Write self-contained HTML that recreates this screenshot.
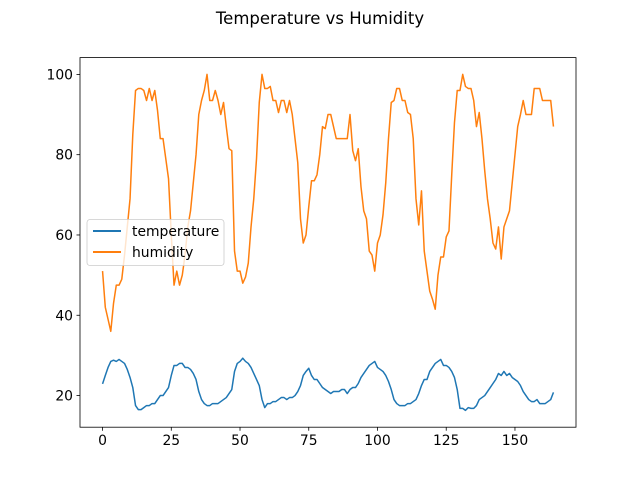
<!DOCTYPE html>
<html><head><meta charset="utf-8"><style>
body{margin:0;background:#fff}
svg{display:block;font-family:"DejaVu Sans","Liberation Sans",sans-serif}
</style></head><body>
<svg id="chart" width="640" height="480">
<rect width="640" height="480" fill="#fff"/>
<text x="320" y="24" text-anchor="middle" font-size="16.5">Temperature vs Humidity</text>
<g id="plot"></g>
<rect x="80" y="57.6" width="496" height="369.6" fill="none" stroke="#000" stroke-width="0.8"/>
<g id="axes"></g>
<g>
<rect x="87" y="219.5" width="137" height="46" rx="3" fill="#fff" fill-opacity="0.8" stroke="#ccc" stroke-width="0.8"/>
<line x1="93" y1="231" x2="121" y2="231" stroke="#1f77b4" stroke-width="2"/>
<text x="132" y="236" font-size="13.9">temperature</text>
<line x1="93" y1="252" x2="121" y2="252" stroke="#ff7f0e" stroke-width="2"/>
<text x="132" y="257" font-size="13.9">humidity</text>
</g>
</svg>
<script>
const humidity=[51,42,39,36,43,47.5,47.5,49,55,62,69,85,96,96.5,96.5,96,93.5,96.5,93.5,96,91,84,84,79,74,60,47.5,51,47.5,50,55,62,66,73,80,90,93.5,96,100,93.5,93.5,96,93.5,90,93,87,81.5,81,56,51,51,48,49.5,53,62,69,79,93,100,96.5,96.5,97,93.5,93.5,90.5,93.5,93.5,90.5,93.5,90,84,78,64,58,60,67,73.5,73.5,75,80,87,86.5,90,90,87,84,84,84,84,84,90,81,78.5,81.5,72,66,64,56,55,51,58,60,65,73,84,93,93.5,96.5,96.5,93.5,93.5,90.5,90,84,69,62.5,71,56,51,46,44,41.5,50,54.5,54.5,59.5,61,75,88,96,96,100,97,96.5,96.5,93.5,87,90.5,84,76,69,64,58,56.5,62,54,62,64,66,73,80,87,90,93.5,90,90,90,96.5,96.5,96.5,93.5,93.5,93.5,93.5,87];
const temperature=[22.9,25,27,28.5,28.8,28.5,29,28.5,28,26.5,24.5,22,17.5,16.5,16.5,17,17.5,17.5,18,18,19,20,20,21,22,25,27.5,27.5,28,28,27,27,26.5,25.5,24,21,19,18,17.5,17.5,18,18,18,18.5,19,19.5,20.5,21.5,26,28,28.5,29.3,28.5,28,27,25.5,24,22.5,19,17,18,18,18.5,18.5,19,19.5,19.5,19,19.5,19.5,20,21,22.5,25,26,26.8,25,24,24,23,22,21.5,21,20.5,21,21,21,21.5,21.5,20.5,21.5,22,22,23,24.5,25.5,26.5,27.5,28,28.5,27,26.5,26,25,23.5,21.5,19,18,17.5,17.5,17.5,18,18,18.5,19,20.5,22.5,24,24,26,27,28,28.5,29,27.5,27.5,27,26,24.5,21.5,16.8,16.8,16.3,17,16.8,16.8,17.5,19,19.5,20,21,22,23,24,25.5,25,26,25,25.5,24.5,24,23.5,22.5,21,20,19,18.5,18.5,19,18,18,18,18.5,19,20.8];
const xTicks=[0,25,50,75,100,125,150];
const yTicks=[20,40,60,80,100];
const NS="http://www.w3.org/2000/svg";
const n=Math.max(humidity.length,temperature.length);
const xmin=0,xmax=n-1,xm=(xmax-xmin)*0.05;
const all=humidity.concat(temperature);
const ymin=Math.min(...all),ymax=Math.max(...all),ym=(ymax-ymin)*0.05;
const L=80,R=576,T=57.6,B=427.2;
const sx=v=>L+(v-(xmin-xm))/((xmax+xm)-(xmin-xm))*(R-L);
const sy=v=>B-(v-(ymin-ym))/((ymax+ym)-(ymin-ym))*(B-T);
const plot=document.getElementById('plot'),axes=document.getElementById('axes');
function line(arr,color,name){
  const p=document.createElementNS(NS,'path');
  p.setAttribute('d',arr.map((v,i)=>(i?'L':'M')+sx(i).toFixed(2)+','+sy(v).toFixed(2)).join(''));
  p.setAttribute('fill','none');p.setAttribute('stroke',color);p.setAttribute('stroke-width','1.5');
  p.setAttribute('stroke-linejoin','round');
  
  
  plot.appendChild(p);
}
line(temperature,'#1f77b4','temperature-line');
line(humidity,'#ff7f0e','humidity-line');
xTicks.forEach(t=>{
  const x=sx(t);
  const l=document.createElementNS(NS,'line');
  l.setAttribute('x1',x);l.setAttribute('x2',x);l.setAttribute('y1',B);l.setAttribute('y2',B+3.5);l.setAttribute('stroke','#000');l.setAttribute('stroke-width','0.8');
  
  
  axes.appendChild(l);
  const tx=document.createElementNS(NS,'text');
  tx.setAttribute('x',x);tx.setAttribute('y',B+18);tx.setAttribute('text-anchor','middle');tx.setAttribute('font-size','13.9');
  tx.textContent=t;
  
  
  axes.appendChild(tx);
});
yTicks.forEach(t=>{
  const y=sy(t);
  const l=document.createElementNS(NS,'line');
  l.setAttribute('x1',L-3.5);l.setAttribute('x2',L);l.setAttribute('y1',y);l.setAttribute('y2',y);l.setAttribute('stroke','#000');l.setAttribute('stroke-width','0.8');
  
  
  axes.appendChild(l);
  const tx=document.createElementNS(NS,'text');
  tx.setAttribute('x',L-7);tx.setAttribute('y',y+5);tx.setAttribute('text-anchor','end');tx.setAttribute('font-size','13.9');
  tx.textContent=t;
  
  
  axes.appendChild(tx);
});
</script>
</body></html>
